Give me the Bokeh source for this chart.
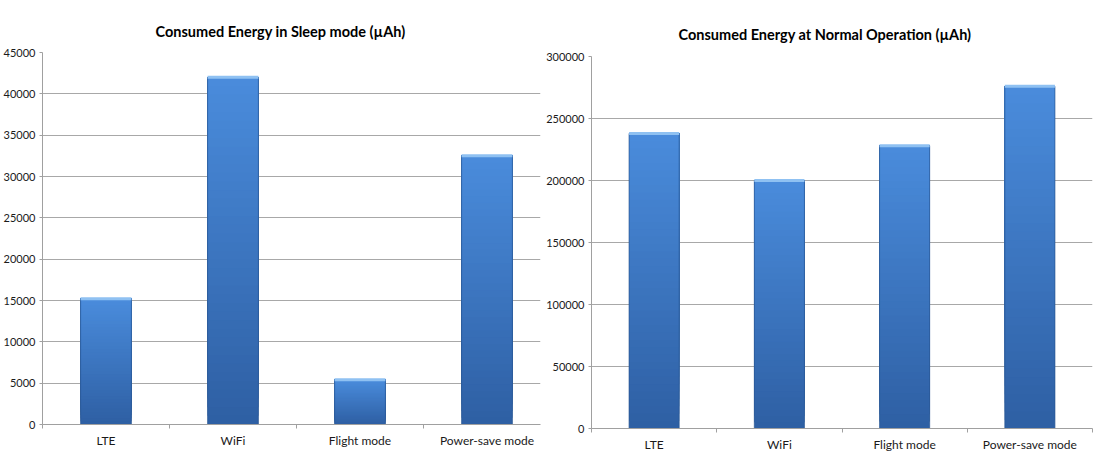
from bokeh.plotting import figure
from bokeh.layouts import row, column
from bokeh.models import FixedTicker, NumeralTickFormatter, Range1d
from bokeh.embed import file_html
from bokeh.resources import INLINE

categories = ["LTE", "WiFi", "Flight mode", "Power-save mode"]
sleep_values = [15200, 42000, 5400, 32500]
normal_values = [238000, 200000, 228000, 276000]

sleep_ticks = [0, 5000, 10000, 15000, 20000, 25000, 30000, 35000, 40000, 45000]
normal_ticks = [0, 50000, 100000, 150000, 200000, 250000, 300000]

FONT = "Lato"
BOTTOM_COL = (0x2E, 0x5F, 0xA3)
TOP_COL = (0x4A, 0x8C, 0xDC)
N_SEG = 40


def mix(t):
    r = [int(round(b + (a - b) * t)) for a, b in zip(TOP_COL, BOTTOM_COL)]
    return "#%02x%02x%02x" % tuple(r)


def make_chart(title, values, yticks, x_end, frame_w, b_left, b_right, b_top, b_bottom, title_offset, title_standoff):
    p = figure(
        frame_width=frame_w, frame_height=372,
        min_border_left=b_left, min_border_right=b_right,
        min_border_top=b_top, min_border_bottom=b_bottom,
        x_range=Range1d(-0.5, x_end), y_range=Range1d(0, yticks[-1]),
        output_backend="svg", toolbar_location=None, tools="",
        title=title,
    )
    p.title.text_font = FONT
    p.title.text_font_style = "bold"
    p.title.text_font_size = "14.5px"
    p.title.text_color = "#000000"
    p.title.align = "left"
    p.title.offset = title_offset
    p.title.standoff = title_standoff
    p.outline_line_color = None
    p.background_fill_color = "white"
    p.border_fill_color = "white"

    xs = list(range(len(categories)))
    # gradient bars: nested slices of each value, painted bottom to top
    for k in range(N_SEG):
        lo = [v * k / N_SEG for v in values]
        p.vbar(x=xs, bottom=lo, top=values, width=0.4, fill_color=mix((k + 0.5) / N_SEG),
               line_color=None)
    p.vbar(x=xs, bottom=0, top=values, width=0.4, fill_alpha=0,
           line_color="#2a5793", line_alpha=0.7, line_width=1)
    p.rect(x=xs, y=values, width=0.4, height=3, height_units="screen",
           fill_color="#8fc1f2", line_color=None)

    p.xgrid.visible = False
    p.ygrid.grid_line_color = "#a8a8a8"
    p.ygrid.grid_line_width = 1
    p.ygrid.ticker = FixedTicker(ticks=yticks)

    ya = p.yaxis[0]
    ya.ticker = FixedTicker(ticks=yticks, minor_ticks=[])
    ya.formatter = NumeralTickFormatter(format="0")
    ya.axis_line_color = "#a0a0a0"
    ya.major_tick_line_color = "#a0a0a0"
    ya.major_tick_out = 3
    ya.major_tick_in = 0
    ya.minor_tick_line_color = None
    ya.major_label_standoff = 4
    ya.major_label_text_font = FONT
    ya.major_label_text_font_size = "11px"
    ya.major_label_text_color = "#1a1a1a"

    xa = p.xaxis[0]
    xa.ticker = FixedTicker(ticks=xs, minor_ticks=[i - 0.5 for i in range(len(categories) + 1)])
    xa.major_label_overrides = {i: c for i, c in enumerate(categories)}
    xa.axis_line_color = "#a0a0a0"
    xa.major_tick_line_color = None
    xa.major_tick_out = 0
    xa.major_tick_in = 0
    xa.minor_tick_line_color = "#a0a0a0"
    xa.minor_tick_out = 4
    xa.minor_tick_in = 0
    xa.major_label_standoff = 4
    xa.major_label_text_font = FONT
    xa.major_label_text_font_size = "12px"
    xa.major_label_text_color = "#1a1a1a"
    return p


left = make_chart("Consumed Energy in Sleep mode (µAh)", sleep_values, sleep_ticks,
                  -0.5 + 498 / 127, 498, 34, 3, 52, 31, 113, 26)
right = make_chart("Consumed Energy at Normal Operation (µAh)", normal_values, normal_ticks,
                   3.5, 501, 44, 3, 56, 27, 87, 28)

layout = row(column(left), column(right))
open("out.html", "w").write(file_html(layout, INLINE))
